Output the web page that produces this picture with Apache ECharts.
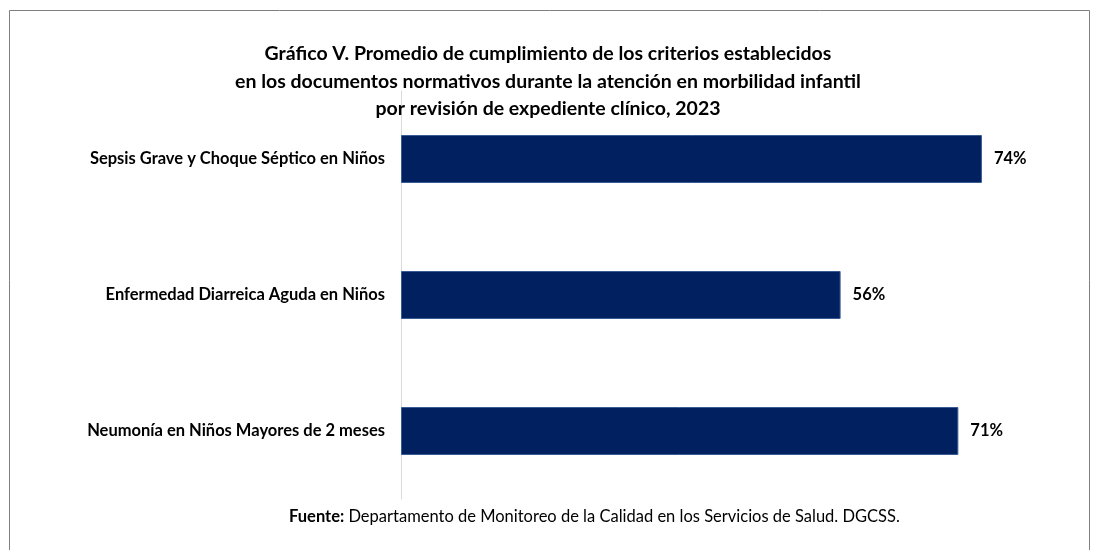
<!DOCTYPE html>
<html>
<head>
<meta charset="utf-8">
<script src="https://cdn.jsdelivr.net/npm/echarts@6/dist/echarts.min.js"></script>
<style>
  html, body { margin: 0; padding: 0; background: #fff; }
  #grafica { width: 1096px; height: 550px; }
</style>
</head>
<body>
<div id="grafica"></div>
<script>
var categorias = [
     'Neumonía en Niños Mayores de 2 meses',
     'Enfermedad Diarreica Aguda en Niños',
     'Sepsis Grave y Choque Séptico en Niños'
];
var valores = [71, 56, 74];

var fuente = 'Lato';

var grafica = echarts.init(document.getElementById('grafica'));

grafica.setOption({
     animation: false,
     title: {
          text: 'Gráfico V. Promedio de cumplimiento de los criterios establecidos\nen los documentos normativos durante la atención en morbilidad infantil\npor revisión de expediente clínico, 2023',
          left: 'center',
          top: 35,
          textStyle: {
               fontFamily: fuente,
               fontSize: 19.5,
               fontWeight: 'bold',
               color: '#000',
               lineHeight: 27.5
          }
     },
     graphic: [
          {
               type: 'rect',
               shape: { x: 9.5, y: 10.5, width: 1080, height: 560 },
               style: { fill: 'none', stroke: '#7f7f7f', lineWidth: 1 },
               z: -1
          },
          {
               type: 'text',
               left: 289,
               top: 508,
               style: {
                    text: '{b|Fuente:} Departamento de Monitoreo de la Calidad en los Servicios de Salud. DGCSS.',
                    fontFamily: fuente,
                    fontSize: 16.5,
                    fill: '#000',
                    rich: {
                         b: { fontFamily: fuente, fontSize: 16.5, fontWeight: 'bold', fill: '#000' }
                    }
               }
          }
     ],
     grid: {
          left: 401,
          right: 67,
          top: 91,
          height: 408,
          containLabel: false
     },
     xAxis: {
          type: 'value',
          min: 0,
          max: 80,
          show: false
     },
     yAxis: {
          type: 'category',
          data: categorias,
          axisLine: { show: true, lineStyle: { color: '#d9d9d9' } },
          axisTick: { show: false },
          axisLabel: {
               fontFamily: fuente,
               fontSize: 16.5,
               fontWeight: 'bold',
               color: '#000',
               margin: 16
          }
     },
     series: [{
          type: 'bar',
          data: valores,
          barWidth: 48,
          itemStyle: {
               color: '#002060',
               borderColor: '#3a5a94',
               borderWidth: 1
          },
          label: {
               show: true,
               position: 'right',
               distance: 12,
               formatter: '{c}%',
               fontFamily: fuente,
               fontSize: 16.5,
               fontWeight: 'bold',
               color: '#000'
          }
     }]
});
</script>
</body>
</html>
